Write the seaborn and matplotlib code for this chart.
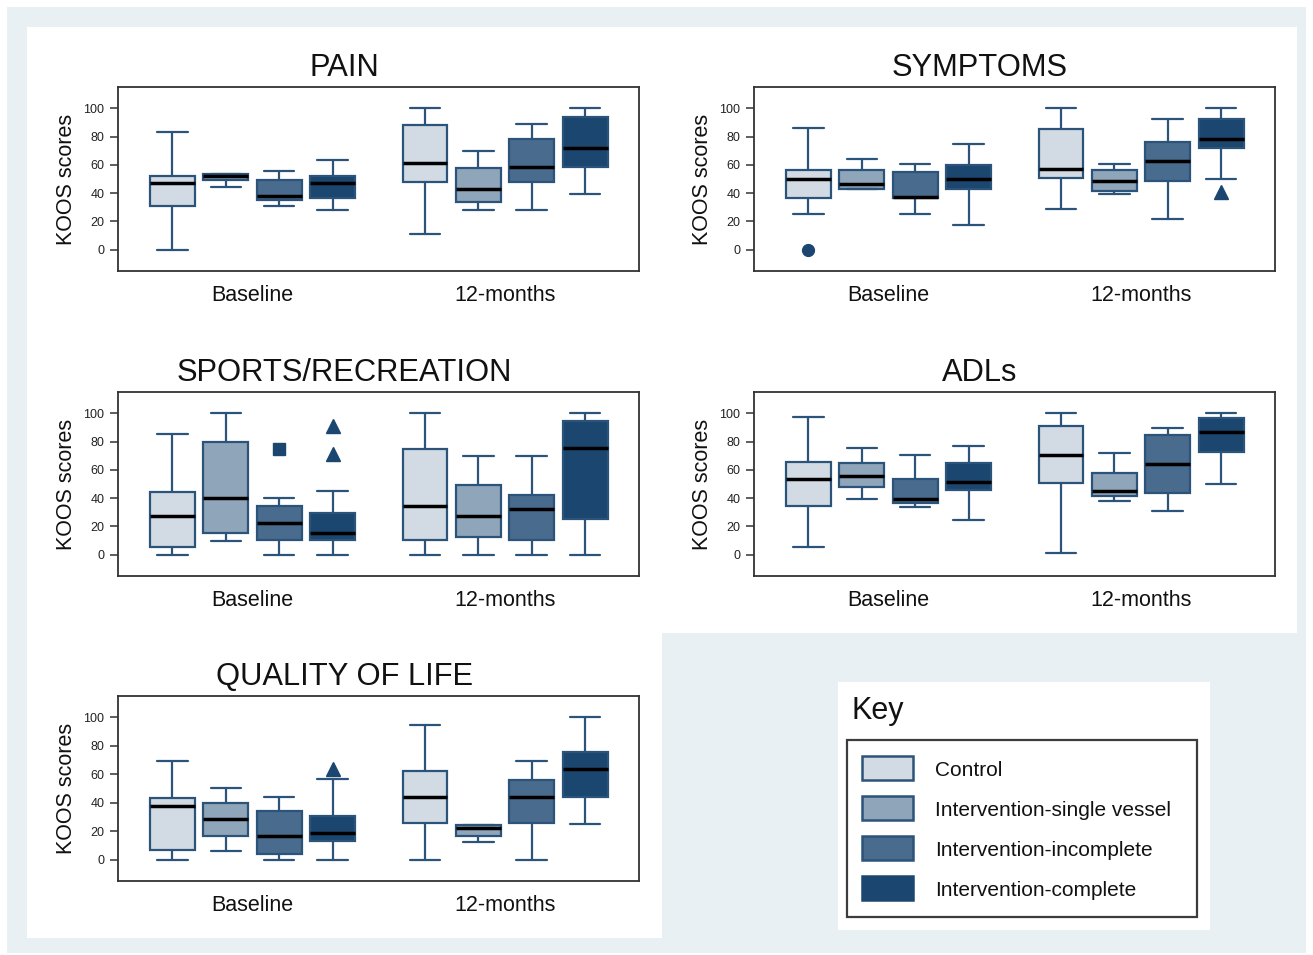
import matplotlib
matplotlib.use("Agg")
import matplotlib.pyplot as plt
from matplotlib.patches import Rectangle
import seaborn as sns

sns.set_theme(style="white")
plt.rcParams["font.family"] = ["Liberation Sans", "DejaVu Sans"]

# ---- data: box-plot summaries, order = 4 groups at Baseline, then 4 groups at 12-months
groups = ["Control", "Intervention-single vessel", "Intervention-incomplete", "Intervention-complete"]
time_labels = ["Baseline", "12-months"]

pain_lo = [0, 44.3, 30.7, 27.8, 11, 28, 28, 39.2]
pain_q1 = [31, 49.3, 35, 36.6, 47.6, 33.7, 47.6, 58.5]
pain_med = [47.4, 52.4, 37.7, 47.4, 61, 43.2, 58.3, 72.2]
pain_q3 = [52, 53.3, 49.5, 52, 88.2, 57.5, 78.5, 93.9]
pain_hi = [83.3, 53.3, 55.7, 63.7, 100, 69.6, 88.9, 100]
pain_out = {}

sym_lo = [25, 43.2, 25, 17.7, 28.8, 39.2, 21.5, 50]
sym_q1 = [36.3, 43.2, 36.3, 43.2, 50.5, 41.5, 48.8, 71.7]
sym_med = [50, 46.2, 37.5, 50, 57.1, 48.3, 62.5, 78.5]
sym_q3 = [56.4, 56.4, 54.7, 60.1, 85.1, 56.4, 76.2, 92.5]
sym_hi = [85.8, 64.2, 60.6, 75, 100, 60.6, 92.5, 100]
sym_out = {0: [0], 7: [40.5]}

sport_lo = [0, 10, 0, 0, 0, 0, 0, 0]
sport_q1 = [5.2, 15.6, 10.4, 10.4, 10.4, 12.8, 10.4, 25.1]
sport_med = [27.5, 40, 22.5, 15.2, 34.8, 27.5, 32.5, 75.1]
sport_q3 = [44.3, 79.4, 34.6, 29.4, 74.6, 49.5, 42.2, 94.8]
sport_hi = [85, 100, 39.8, 45, 100, 70.1, 70.1, 100]
sport_out = {2: [75], 3: [91, 71]}

adl_lo = [5.7, 39.6, 33.6, 24.9, 1.4, 38.2, 30.8, 50]
adl_q1 = [34.4, 47.9, 36.5, 46, 50.5, 41.7, 43.8, 72.3]
adl_med = [53.6, 55.5, 39.6, 51.4, 70.6, 44.8, 64, 87]
adl_q3 = [65.6, 64.9, 53.8, 64.5, 90.8, 58.1, 84.8, 96.7]
adl_hi = [97.2, 75.1, 70.6, 76.5, 100, 72, 89.8, 100]
adl_out = {}

qol_lo = [0, 6.4, 0, 0, 0, 12.6, 0, 25.1]
qol_q1 = [6.9, 16.4, 3.8, 12.8, 25.6, 16.4, 25.6, 44.1]
qol_med = [37.9, 28.4, 16.4, 19, 44.1, 22.5, 44.1, 63.5]
qol_q3 = [43.4, 40, 34.1, 31, 62.6, 24.4, 55.9, 75.4]
qol_hi = [69.2, 50.2, 44.1, 56.6, 94.3, 24.4, 69.2, 100]
qol_out = {3: [64]}

# ---- styling
fills = sns.color_palette(["#d2dbe4", "#8fa5ba", "#496b8d", "#1b4670"])
EDGE = "#2c5379"
DARK = "#1b4670"
flier_markers = ["o", None, "s", "^"]
BG = "#e8f0f3"

W, H = 1313, 955
fig = plt.figure(figsize=(W / 100, H / 100), dpi=100)


def rect(x0, y0, x1, y1):
    return [x0 / W, 1 - y1 / H, (x1 - x0) / W, (y1 - y0) / H]


# page background and white panels
bg = fig.add_axes([0, 0, 1, 1], zorder=-10)
bg.set_xlim(0, W)
bg.set_ylim(H, 0)
bg.axis("off")
bg.add_patch(Rectangle((7, 7), 1299, 946, facecolor=BG, edgecolor="none"))
bg.add_patch(Rectangle((27, 27), 635, 911, facecolor="white", edgecolor="none"))
bg.add_patch(Rectangle((662, 27), 635, 606, facecolor="white", edgecolor="none"))
bg.add_patch(Rectangle((838, 682), 372, 248, facecolor="white", edgecolor="none"))

positions = [1, 2, 3, 4, 5.73, 6.73, 7.73, 8.73]
centers = [2.5, 7.23]


def draw_panel(box, title, title_x, lo, q1, med, q3, hi, outliers):
    x0, y0, x1, y1 = box
    ax = fig.add_axes(rect(x0, y0, x1, y1))
    stats = [dict(whislo=lo[i], q1=q1[i], med=med[i], q3=q3[i], whishi=hi[i], fliers=[])
             for i in range(len(med))]
    art = ax.bxp(stats, positions=positions, widths=0.84, patch_artist=True,
                 showfliers=False, capwidths=0.57,
                 boxprops=dict(edgecolor=EDGE, linewidth=1.6),
                 whiskerprops=dict(color=EDGE, linewidth=1.6),
                 capprops=dict(color=EDGE, linewidth=1.6),
                 medianprops=dict(color="black", linewidth=2.5))
    for i, patch in enumerate(art["boxes"]):
        patch.set_facecolor(fills[i % 4])
    for i, vals in outliers.items():
        for v in vals:
            ax.plot(positions[i], v, marker=flier_markers[i % 4], color=DARK,
                    markersize=9.5 if flier_markers[i % 4] == "^" else 8.5,
                    linestyle="none")
    ax.set_xlim(-0.02, 9.74)
    ax.set_ylim(-15, 115)
    ax.set_yticks([0, 20, 40, 60, 80, 100])
    ax.set_xticks(centers, time_labels)
    ax.tick_params(axis="y", left=True, direction="out", length=5.8, width=1.1,
                   color="#333333", labelcolor="#222222", labelsize=9, pad=4)
    ax.tick_params(axis="x", bottom=False, length=0, labelsize=15.5, pad=10,
                   labelcolor="#111111")
    for s in ax.spines.values():
        s.set_visible(True)
        s.set_color("#333333")
        s.set_linewidth(1.3)
    ax.set_facecolor("white")
    fig.text(x0 / W - 46 / W, 1 - ((y0 + y1) / 2) / H, "KOOS scores", rotation=90,
             rotation_mode="anchor", ha="center", va="baseline", fontsize=15.5,
             color="#111111")
    fig.text(title_x / W, 1 - (y0 - 11) / H, title, ha="center", va="baseline",
             fontsize=22.2, color="#111111")
    return ax


L = (118, 639)
R = (754, 1275)
draw_panel((L[0], 87, L[1], 271), "PAIN", 344.5, pain_lo, pain_q1, pain_med, pain_q3, pain_hi, pain_out)
draw_panel((R[0], 87, R[1], 271), "SYMPTOMS", 979.5, sym_lo, sym_q1, sym_med, sym_q3, sym_hi, sym_out)
draw_panel((L[0], 392, L[1], 576), "SPORTS/RECREATION", 344.5, sport_lo, sport_q1, sport_med, sport_q3, sport_hi, sport_out)
draw_panel((R[0], 392, R[1], 576), "ADLs", 979.5, adl_lo, adl_q1, adl_med, adl_q3, adl_hi, adl_out)
draw_panel((L[0], 696, L[1], 881), "QUALITY OF LIFE", 344.5, qol_lo, qol_q1, qol_med, qol_q3, qol_hi, qol_out)

# key
key = fig.add_axes([0, 0, 1, 1], zorder=10)
key.set_xlim(0, W)
key.set_ylim(H, 0)
key.axis("off")
key.patch.set_alpha(0)
key.text(852, 719, "Key", ha="left", va="baseline", fontsize=22, color="#111111")
key.add_patch(Rectangle((847, 740), 350, 177, facecolor="none", edgecolor="#3c3c3c",
                        linewidth=1.6))
for i, name in enumerate(groups):
    yc = 768 + 40 * i
    key.add_patch(Rectangle((862, yc - 12), 51, 24, facecolor=fills[i],
                            edgecolor=EDGE if i < 3 else fills[i], linewidth=1.8))
    key.text(935, yc + 2, name, ha="left", va="center", fontsize=15, color="#111111")

fig.savefig("out.png", dpi=100)
